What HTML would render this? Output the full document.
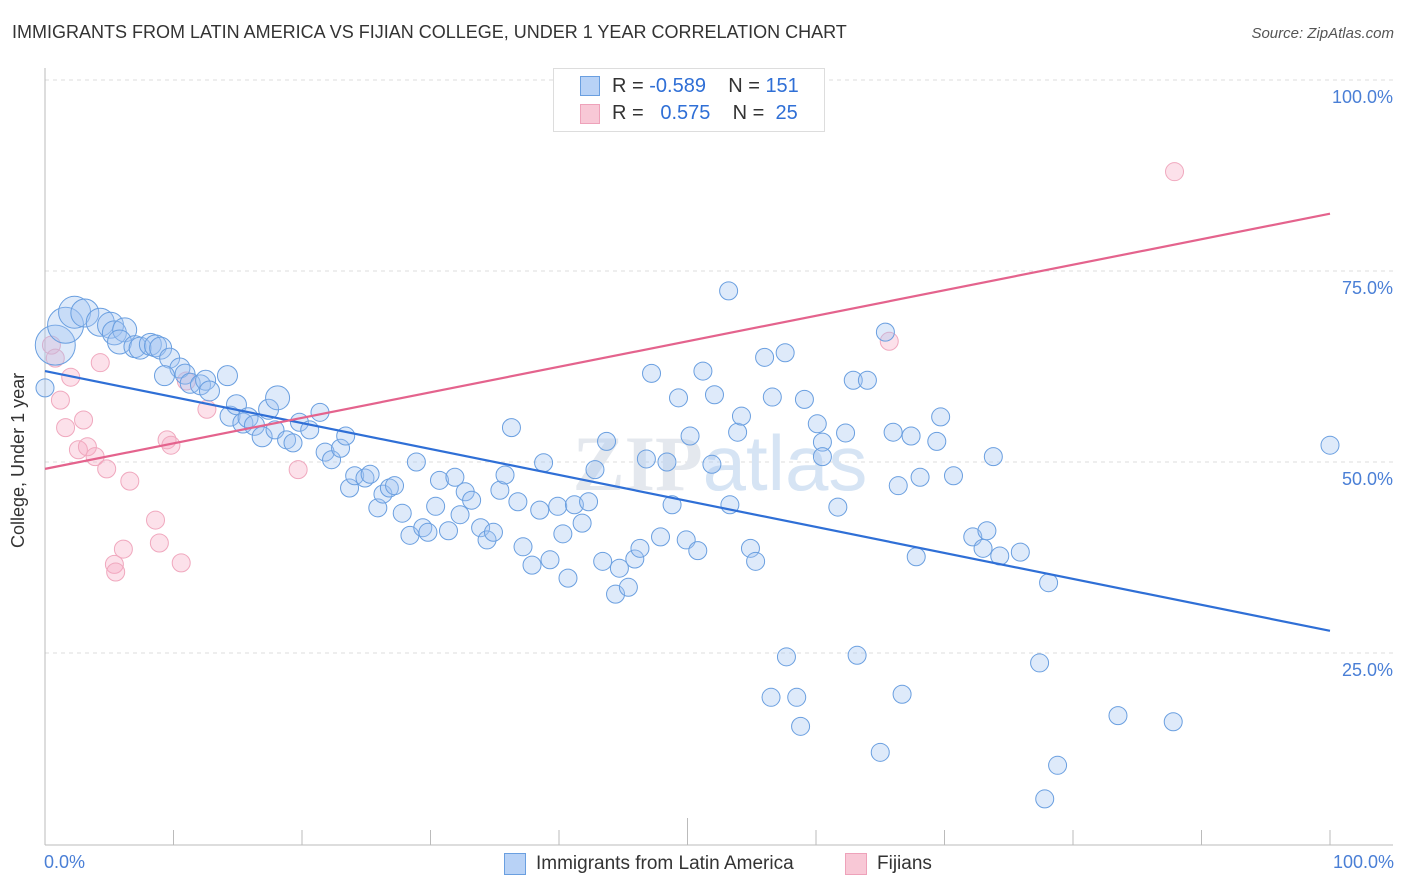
<!DOCTYPE html>
<html><head><meta charset="utf-8"><style>
body{margin:0;background:#fff;font-family:"Liberation Sans",sans-serif;}
#wrap{position:relative;width:1406px;height:892px;overflow:hidden}
.t{position:absolute;white-space:nowrap}
</style></head><body>
<div id="wrap">
<div class="t" style="left:12px;top:22px;font-size:18px;color:#333">IMMIGRANTS FROM LATIN AMERICA VS FIJIAN COLLEGE, UNDER 1 YEAR CORRELATION CHART</div>
<div class="t" style="right:12px;top:25px;font-size:15px;color:#555;font-style:italic">Source: ZipAtlas.com</div>
<svg id="svg" width="1406" height="892" style="position:absolute;left:0;top:0"></svg>
</div>
<script>
const blueX=[0.8,1.6,2.3,3.1,4.3,5.1,5.4,6.2,5.8,7.0,7.4,8.2,8.6,9.0,9.7,10.5,9.3,10.9,11.3,12.1,12.5,12.8,14.2,14.4,14.9,15.4,15.8,16.3,16.9,17.4,18.1,17.9,18.8,19.3,19.8,20.6,21.4,21.8,22.3,23.0,23.4,23.7,24.1,24.9,25.3,25.9,26.3,26.8,27.2,27.8,28.4,28.9,29.4,29.8,30.4,30.7,31.4,31.9,32.3,32.7,33.2,33.9,34.4,34.9,35.4,35.8,36.3,36.8,37.2,37.9,38.5,38.8,39.3,39.9,40.3,40.7,41.2,41.8,42.3,42.8,43.4,43.7,44.4,44.7,45.4,45.9,46.3,46.8,47.2,47.9,48.4,48.8,49.3,49.9,50.2,50.8,51.2,51.9,52.1,53.2,53.3,53.9,54.2,54.9,55.3,56.0,56.6,57.6,57.7,56.5,58.5,58.8,59.1,60.1,60.5,60.5,61.7,62.3,62.9,63.2,64.0,65.0,65.4,66.0,66.4,66.7,67.4,67.8,68.1,69.4,69.7,70.7,72.2,73.0,73.3,74.3,73.8,75.9,77.4,77.8,78.1,78.8,83.5,87.8,100,0];
const blueY=[65.3,67.9,69.6,69.5,68.3,67.9,66.9,67.3,65.7,65.1,64.9,65.4,65.2,64.9,63.6,62.3,61.3,61.5,60.3,60.1,60.7,59.3,61.3,56.0,57.5,55.1,55.8,54.8,53.3,56.9,58.4,54.2,52.9,52.5,55.2,54.2,56.5,51.3,50.3,51.8,53.4,46.6,48.2,47.9,48.4,44.0,45.8,46.6,46.9,43.3,40.4,50.0,41.4,40.8,44.2,47.6,41.0,48.0,43.1,46.1,45.0,41.4,39.8,40.8,46.3,48.3,54.5,44.8,38.9,36.5,43.7,49.9,37.2,44.2,40.6,34.8,44.4,42.0,44.8,49.0,37.0,52.7,32.7,36.1,33.6,37.3,38.7,50.4,61.6,40.2,50.0,44.4,58.4,39.8,53.4,38.4,61.9,49.7,58.8,72.4,44.4,53.9,56.0,38.7,37.0,63.7,58.5,64.3,24.5,19.2,19.2,15.4,58.2,55.0,52.6,50.7,44.1,53.8,60.7,24.7,60.7,12.0,67.0,53.9,46.9,19.6,53.4,37.6,48.0,52.7,55.9,48.2,40.2,38.7,41.0,37.7,50.7,38.2,23.7,5.9,34.2,10.3,16.8,16.0,52.2,59.7];
const blueR=[20,18,16,14,14,13,12,12,12,11,11,11,11,11,10,10,10,10,10,10,10,10,10,10,10,10,10,10,10,10,12];
const pinkX=[0.5,0.8,1.2,2.0,1.6,2.6,3.0,3.3,3.9,4.3,4.8,6.6,5.4,5.5,6.1,8.6,8.9,9.5,9.8,10.6,11.0,12.6,19.7,65.7,87.9];
const pinkY=[65.3,63.6,58.1,61.1,54.5,51.6,55.5,52.0,50.7,63.0,49.1,47.5,36.6,35.6,38.6,42.4,39.4,52.9,52.2,36.8,60.6,56.9,49.0,65.8,88.0];
const blueTrend=[61.9,27.9];
const pinkTrend=[49.1,82.5];
const yTicks=[25,50,75,100];
const yTickLabels=["25.0%","50.0%","75.0%","100.0%"];
const xTicks=[0,10,20,30,40,50,60,70,80,90,100];
const X=v=>45+v*12.85, Y=v=>844-v*7.64;
const svg=document.getElementById('svg'),NS='http://www.w3.org/2000/svg';
function mk(t,a,p){const e=document.createElementNS(NS,t);for(const k in a)e.setAttribute(k,a[k]);(p||svg).appendChild(e);return e;}
yTicks.forEach((v,i)=>{
 const g=mk('line',{x1:45,x2:1393,y1:Y(v),y2:Y(v),stroke:'#ddd','stroke-dasharray':'4,4'});
 
 
 const t=mk('text',{x:1393,y:Y(v)+23,'text-anchor':'end','font-size':18,fill:'#4a7fd6','font-family':'Liberation Sans'});t.textContent=yTickLabels[i];
 
 
});
const wm=mk('text',{x:720,y:490,'text-anchor':'middle','font-size':78,fill:'#e4e8ee','font-family':'Liberation Serif','font-weight':'bold'});wm.innerHTML='ZIP<tspan fill="#d6e4f4" font-family="Liberation Sans" font-weight="normal">atlas</tspan>';


const ax=mk('line',{x1:45,x2:45,y1:68,y2:845,stroke:'#bbb'});


const bx=mk('line',{x1:45,x2:1393,y1:845,y2:845,stroke:'#bbb'});


xTicks.forEach(v=>{const l=mk('line',{x1:X(v),x2:X(v),y1:v==50?818:830,y2:845,stroke:'#bbb'});
 
 });
function pts(xs,ys,fill,stroke,name){xs.forEach((v,i)=>{
 const c=mk('circle',{cx:X(v),cy:Y(ys[i]),r:name=='blue-point'?(blueR[i]||9):9,fill:fill,stroke:stroke,'stroke-width':1});
 
 });}
pts(pinkX,pinkY,'rgba(245,170,195,0.35)','#f0a8be','pink-point');
pts(blueX,blueY,'rgba(160,196,240,0.35)','#6a9fe0','blue-point');
const bl=mk('line',{x1:X(0),x2:X(100),y1:Y(blueTrend[0]),y2:Y(blueTrend[1]),stroke:'#2f6fd6','stroke-width':2.2});


const pl=mk('line',{x1:X(0),x2:X(100),y1:Y(pinkTrend[0]),y2:Y(pinkTrend[1]),stroke:'#e4638d','stroke-width':2.2});


</script>
<div class="t" style="left:8px;top:548px;transform:rotate(-90deg);transform-origin:0 0;font-size:18px;color:#333">College, Under 1 year</div>
<div class="t" style="left:44px;top:852px;font-size:18px;color:#4a7fd6">0.0%</div>
<div class="t" style="right:12px;top:852px;font-size:18px;color:#4a7fd6">100.0%</div>
<div style="position:absolute;left:553px;top:68px;width:270px;height:62px;border:1px solid #ddd;background:#fff;font-size:20px;color:#333">
 <div class="t" style="left:26px;top:7px;width:18px;height:18px;background:#b8d2f6;border:1px solid #6a9fe0"></div>
 <div class="t" style="left:58px;top:6px">R = <span style="color:#2f6fd6">-0.589</span>&nbsp;&nbsp;&nbsp; N = <span style="color:#2f6fd6">151</span></div>
 <div class="t" style="left:26px;top:35px;width:18px;height:18px;background:#f8c8d6;border:1px solid #eea2ba"></div>
 <div class="t" style="left:58px;top:33px">R = &nbsp;&nbsp;<span style="color:#2f6fd6">0.575</span>&nbsp;&nbsp;&nbsp; N = &nbsp;<span style="color:#2f6fd6">25</span></div>
</div>
<div class="t" style="left:504px;top:853px;width:20px;height:20px;background:#b8d2f6;border:1px solid #6a9fe0"></div>
<div class="t" style="left:536px;top:853px;font-size:19px;color:#333">Immigrants from Latin America</div>
<div class="t" style="left:845px;top:853px;width:20px;height:20px;background:#f8c8d6;border:1px solid #eea2ba"></div>
<div class="t" style="left:877px;top:853px;font-size:19px;color:#333">Fijians</div>
</body></html>
